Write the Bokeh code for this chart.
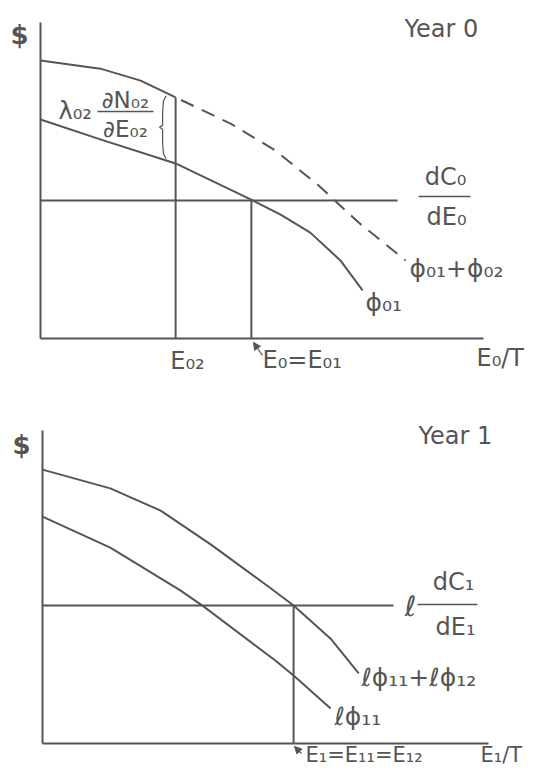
from bokeh.plotting import figure
from bokeh.layouts import column
from bokeh.models import Range1d, Arrow, NormalHead
from bokeh.core.properties import value
from bokeh.embed import file_html
from bokeh.resources import INLINE

# ---------------- data (economic units: effort on x, $ on y) ----------------
# Year 0
y0_sum_x = [0.0, 1.35, 2.26, 3.05, 4.29, 5.30, 6.28, 7.18, 8.24]      # phi01 + phi02
y0_sum_y = [8.80, 8.54, 8.16, 7.63, 6.80, 5.95, 4.84, 3.67, 2.47]
y0_phi_x = [0.0, 1.35, 3.05, 4.79, 5.42, 6.09, 6.77, 7.27]             # phi01
y0_phi_y = [6.93, 6.30, 5.54, 4.37, 3.92, 3.35, 2.47, 1.52]
y0_cost = 4.37          # dC0/dE0
y0_cost_end = 8.06
y0_E02 = 3.05
y0_E01 = 4.76
# Year 1
y1_sum_x = [0.0, 1.52, 2.65, 3.77, 5.04, 5.63, 6.46, 7.09]             # rho phi11 + rho phi12
y1_sum_y = [8.75, 8.15, 7.44, 6.36, 5.04, 4.41, 3.35, 2.24]
y1_phi_x = [0.0, 1.52, 3.09, 3.61, 5.22, 5.63, 6.46]                   # rho phi11
y1_phi_y = [7.25, 6.26, 4.89, 4.38, 2.65, 2.17, 1.12]
y1_cost = 4.41          # rho dC1/dE1
y1_cost_end = 7.87
y1_E1 = 5.63
axis_len = 10.0

# ---------------- style ----------------
INK = "#555555"
LW = 2.0
FONT = value("DejaVu Sans")
W = 533


def make_fig(h, x0px, sx, y0px, sy, top_px):
    # x0px/y0px: pixel of the origin; sx/sy: px per unit
    xs = (0 - x0px) / sx
    xe = (W - x0px) / sx
    ys_top = (y0px - top_px) / sy
    ys_bot = (y0px - (top_px + h)) / sy
    p = figure(width=W, height=h, x_range=Range1d(xs, xe), y_range=Range1d(ys_bot, ys_top),
               output_backend="svg", toolbar_location=None,
               x_axis_location=None, y_axis_location=None, min_border=0)
    p.grid.visible = False
    p.outline_line_color = None
    p.background_fill_color = "white"
    p.border_fill_color = "white"
    fx = lambda X: (X - x0px) / sx
    fy = lambda Y: (y0px - Y) / sy
    return p, fx, fy


def txt(p, x, y, s, size=24, align="left", style="normal"):
    p.text(x=[x], y=[y], text=[s], text_font=FONT, text_font_size=f"{size}px",
           text_color=INK, text_align=align, text_baseline="middle", text_font_style=style)


# ================= Year 0 =================
p1, fx, fy = make_fig(376, 40, 44.3, 338, 31.6, 0)
p1.line([0, 0], [0, axis_len], line_color=INK, line_width=LW)
p1.line([0, axis_len], [0, 0], line_color=INK, line_width=LW)
p1.line([0, y0_cost_end], [y0_cost, y0_cost], line_color=INK, line_width=LW)
k = y0_sum_x.index(y0_E02)
p1.line(y0_sum_x[:k + 1], y0_sum_y[:k + 1], line_color=INK, line_width=LW)
p1.line(y0_sum_x[k:], y0_sum_y[k:], line_color=INK, line_width=LW,
        line_dash="14 9", line_dash_offset=-6)
p1.line(y0_phi_x, y0_phi_y, line_color=INK, line_width=LW)
p1.line([y0_E02, y0_E02], [0, y0_sum_y[k]], line_color=INK, line_width=LW)
p1.line([y0_E01, y0_E01], [0, y0_cost], line_color=INK, line_width=LW)
# brace between curves
ytop = y0_sum_y[k] + 0.05
ybot = y0_phi_y[y0_phi_x.index(y0_E02)] + 0.15
bx = fx(163)
fr = [0.0, 0.08, 0.25, 0.47, 0.5, 0.53, 0.75, 0.92, 1.0]
dx = [0.06, 0.0, -0.02, -0.02, -0.09, -0.02, -0.02, 0.0, 0.06]
p1.line([bx + d for d in dx], [ytop - f * (ytop - ybot) for f in fr], line_color=INK, line_width=1.2)

txt(p1, fx(19), fy(34), "$", 26, "center", "bold")
txt(p1, fx(404), fy(28), "Year 0", 24)
txt(p1, fx(58), fy(110), "λ₀₂", 24)
txt(p1, fx(125), fy(99), "∂N₀₂", 23, "center")
p1.line([fx(97), fx(153)], [fy(111), fy(111)], line_color=INK, line_width=1.6)
txt(p1, fx(125), fy(128), "∂E₀₂", 23, "center")
txt(p1, fx(445), fy(176), "dC₀", 24, "center")
p1.line([fx(418), fx(470)], [fy(196), fy(196)], line_color=INK, line_width=1.6)
txt(p1, fx(446), fy(216), "dE₀", 24, "center")
txt(p1, fx(409), fy(268), "ϕ₀₁+ϕ₀₂", 25)
txt(p1, fx(365), fy(302), "ϕ₀₁", 25)
txt(p1, fx(187), fy(360), "E₀₂", 24, "center")
txt(p1, fx(262), fy(359), "E₀=E₀₁", 24)
txt(p1, fx(476), fy(357), "E₀/T", 24)
p1.add_layout(Arrow(end=NormalHead(size=7, fill_color=INK, line_color=INK),
                    x_start=fx(262), y_start=fy(355), x_end=fx(253), y_end=fy(342),
                    line_color=INK, line_width=1.3))

# ================= Year 1 =================
p2, gx, gy = make_fig(391, 42, 44.6, 743, 31.3, 376)
p2.line([0, 0], [0, axis_len], line_color=INK, line_width=LW)
p2.line([0, axis_len], [0, 0], line_color=INK, line_width=LW)
p2.line([0, y1_cost_end], [y1_cost, y1_cost], line_color=INK, line_width=LW)
p2.line(y1_sum_x, y1_sum_y, line_color=INK, line_width=LW)
p2.line(y1_phi_x, y1_phi_y, line_color=INK, line_width=LW)
p2.line([y1_E1, y1_E1], [0, y1_cost], line_color=INK, line_width=LW)

txt(p2, gx(21), gy(444), "$", 26, "center", "bold")
txt(p2, gx(418), gy(435), "Year 1", 24)
txt(p2, gx(410), gy(606), "ℓ", 28, "center")
txt(p2, gx(453), gy(581), "dC₁", 24, "center")
p2.line([gx(417), gx(477)], [gy(604), gy(604)], line_color=INK, line_width=1.6)
txt(p2, gx(455), gy(626), "dE₁", 24, "center")
txt(p2, gx(361), gy(677), "ℓϕ₁₁+ℓϕ₁₂", 25)
txt(p2, gx(334), gy(716), "ℓϕ₁₁", 25)
txt(p2, gx(305), gy(754), "E₁=E₁₁=E₁₂", 21)
txt(p2, gx(480), gy(754), "E₁/T", 21)
p2.add_layout(Arrow(end=NormalHead(size=7, fill_color=INK, line_color=INK),
                    x_start=gx(301), y_start=gy(753), x_end=gx(294), y_end=gy(746),
                    line_color=INK, line_width=1.3))

layout = column(p1, p2, spacing=0)
open("out.html", "w").write(file_html(layout, INLINE))
